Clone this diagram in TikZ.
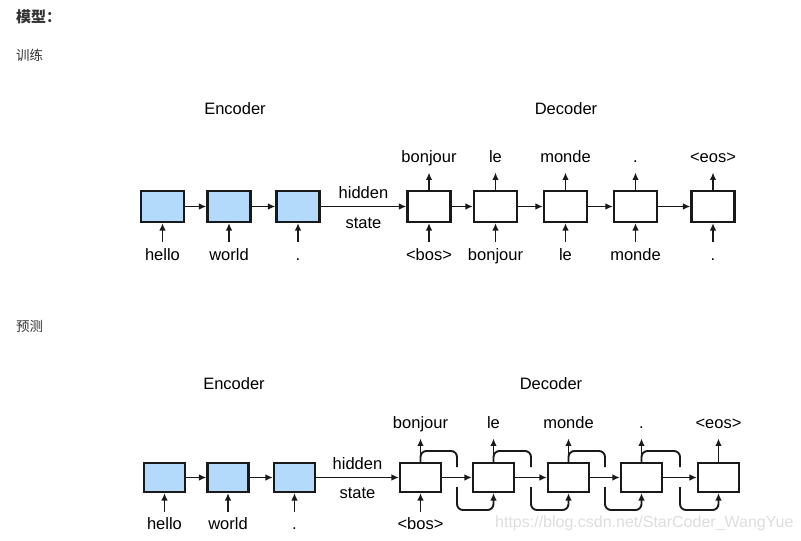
\documentclass[tikz,border=0pt]{standalone}
\usepackage{fontspec}
\setmainfont{Liberation Sans}
\newfontfamily\cjk{Noto Sans CJK SC}
\usetikzlibrary{positioning,arrows.meta}
\definecolor{cellblue}{HTML}{B4DAFB}
\definecolor{inkgray}{HTML}{333333}
\definecolor{markgray}{HTML}{DDDDDD}

\begin{document}
\begin{tikzpicture}[x=1pt, y=-1pt,
    word/.style={font=\fontsize{16.5}{19}\selectfont, inner sep=0pt, text height=12pt, text depth=3.5pt},
    note/.style={anchor=base west, inner sep=0pt, text=inkgray},
    cell/.style={draw=black!90, line width=2.1pt, inner sep=0pt, minimum width=43pt, minimum height=31pt},
    enc/.style={cell, fill=cellblue},
    arr/.style={draw=black!90, line width=1.9pt, -{Latex[length=7.5pt,width=6.5pt]}},
    feed/.style={draw=black!90, line width=1.9pt, rounded corners=6pt}]
  \useasboundingbox (0,0) rectangle (801,541);

  \node [note, font=\cjk\bfseries\fontsize{15}{18}\selectfont] (title) at (16,22) {模型：};
  \node [note, font=\cjk\fontsize{13.5}{16}\selectfont] (train) at (16,60.7) {训练};
  \node [note, font=\cjk\fontsize{13.5}{16}\selectfont] (pred) at (16,331) {预测};

  % training
  \begin{scope}
    \node [word, anchor=base] (encT) at (235,114) {Encoder};
    \node [word, anchor=base] (decT) at (566,114) {Decoder};

    \node [enc] (te1) at (162.5,206.5) {};
    \node [enc] (te2) at (229,206.5) {};
    \node [enc] (te3) at (298,206.5) {};
    \node [cell] (td1) at (429,206.5) {};
    \node [cell] (td2) at (495.5,206.5) {};
    \node [cell] (td3) at (565.5,206.5) {};
    \node [cell] (td4) at (635.5,206.5) {};
    \node [cell] (td5) at (713,206.5) {};

    \node [word, below=25pt of te1] (tx1) {hello};
    \node [word, below=25pt of te2] (tx2) {world};
    \node [word, below=25pt of te3] (tx3) {.};
    \node [word, below=25pt of td1] (tx4) {<bos>};
    \node [word, below=25pt of td2] (tx5) {bonjour};
    \node [word, below=25pt of td3] (tx6) {le};
    \node [word, below=25pt of td4] (tx7) {monde};
    \node [word, below=25pt of td5] (tx8) {.};

    \node [word, above=24pt of td1] (ty1) {bonjour};
    \node [word, above=24pt of td2] (ty2) {le};
    \node [word, above=24pt of td3] (ty3) {monde};
    \node [word, above=24pt of td4] (ty4) {.};
    \node [word, above=24pt of td5] (ty5) {<eos>};

    \draw [arr, shorten <=6pt] (tx1.north) -- (te1.south);
    \draw [arr, shorten <=6pt] (tx2.north) -- (te2.south);
    \draw [arr, shorten <=6pt] (tx3.north) -- (te3.south);
    \draw [arr, shorten <=6pt] (tx4.north) -- (td1.south);
    \draw [arr, shorten <=6pt] (tx5.north) -- (td2.south);
    \draw [arr, shorten <=6pt] (tx6.north) -- (td3.south);
    \draw [arr, shorten <=6pt] (tx7.north) -- (td4.south);
    \draw [arr, shorten <=6pt] (tx8.north) -- (td5.south);

    \draw [arr, shorten >=6.5pt] (td1.north) -- (ty1.south);
    \draw [arr, shorten >=6.5pt] (td2.north) -- (ty2.south);
    \draw [arr, shorten >=6.5pt] (td3.north) -- (ty3.south);
    \draw [arr, shorten >=6.5pt] (td4.north) -- (ty4.south);
    \draw [arr, shorten >=6.5pt] (td5.north) -- (ty5.south);

    \draw [arr] (te1) -- (te2);
    \draw [arr] (te2) -- (te3);
    \draw [arr] (te3) -- (td1)
      node [word, midway, above=3.7pt] (hidT) {hidden}
      node [word, midway, below=8.8pt] (stT) {state};
    \draw [arr] (td1) -- (td2);
    \draw [arr] (td2) -- (td3);
    \draw [arr] (td3) -- (td4);
    \draw [arr] (td4) -- (td5);
  \end{scope}

  % prediction
  \begin{scope}[cell/.append style={minimum width=41pt, minimum height=29pt}]
    \node [word, anchor=base] (encP) at (234,389) {Encoder};
    \node [word, anchor=base] (decP) at (551,389) {Decoder};

    \node [enc] (pe1) at (164.5,477.5) {};
    \node [enc] (pe2) at (228,477.5) {};
    \node [enc] (pe3) at (294.5,477.5) {};
    \node [cell] (pd1) at (420.5,477.5) {};
    \node [cell] (pd2) at (493.5,477.5) {};
    \node [cell] (pd3) at (568.5,477.5) {};
    \node [cell] (pd4) at (641.5,477.5) {};
    \node [cell] (pd5) at (718.5,477.5) {};

    \node [word, below=24.5pt of pe1] (px1) {hello};
    \node [word, below=24.5pt of pe2] (px2) {world};
    \node [word, below=24.5pt of pe3] (px3) {.};
    \node [word, below=24.5pt of pd1] (px4) {<bos>};

    \node [word, above=30pt of pd1] (py1) {bonjour};
    \node [word, above=30pt of pd2] (py2) {le};
    \node [word, above=30pt of pd3] (py3) {monde};
    \node [word, above=30pt of pd4] (py4) {.};
    \node [word, above=30pt of pd5] (py5) {<eos>};

    \draw [arr, shorten <=6pt] (px1.north) -- (pe1.south);
    \draw [arr, shorten <=6pt] (px2.north) -- (pe2.south);
    \draw [arr, shorten <=6pt] (px3.north) -- (pe3.south);
    \draw [arr, shorten <=6pt] (px4.north) -- (pd1.south);

    \draw [arr, shorten >=6.5pt] (pd1.north) -- (py1.south);
    \draw [arr, shorten >=6.5pt] (pd2.north) -- (py2.south);
    \draw [arr, shorten >=6.5pt] (pd3.north) -- (py3.south);
    \draw [arr, shorten >=6.5pt] (pd4.north) -- (py4.south);
    \draw [arr, shorten >=6.5pt] (pd5.north) -- (py5.south);

    \draw [arr] (pe1) -- (pe2);
    \draw [arr] (pe2) -- (pe3);
    \draw [arr] (pe3) -- (pd1)
      node [word, midway, above=4pt] (hidP) {hidden}
      node [word, midway, below=7.8pt] (stP) {state};
    \draw [arr] (pd1) -- (pd2);
    \draw [arr] (pd2) -- (pd3);
    \draw [arr] (pd3) -- (pd4);
    \draw [arr] (pd4) -- (pd5);

    % feedback, broken where it crosses
    \coordinate (up1) at (457,467);   \coordinate (dn1) at (457,487);
    \coordinate (up2) at (531,467);   \coordinate (dn2) at (531,487);
    \coordinate (up3) at (605,467);   \coordinate (dn3) at (605,487);
    \coordinate (up4) at (680,467);   \coordinate (dn4) at (680,487);
    \draw [feed] (pd1.north) |- ([yshift=16pt]up1) -- (up1);
    \draw [feed] (pd2.north) |- ([yshift=16pt]up2) -- (up2);
    \draw [feed] (pd3.north) |- ([yshift=16pt]up3) -- (up3);
    \draw [feed] (pd4.north) |- ([yshift=16pt]up4) -- (up4);
    \draw [feed, arr] (dn1) -- ++(0,23) -| (pd2.south);
    \draw [feed, arr] (dn2) -- ++(0,23) -| (pd3.south);
    \draw [feed, arr] (dn3) -- ++(0,23) -| (pd4.south);
    \draw [feed, arr] (dn4) -- ++(0,23) -| (pd5.south);
  \end{scope}

  \node [anchor=base west, inner sep=0pt, text=markgray, font=\fontsize{16}{19}\selectfont] (mark) at (495,527.7) {https://blog.csdn.net/StarCoder\_WangYue};
\end{tikzpicture}
\end{document}
